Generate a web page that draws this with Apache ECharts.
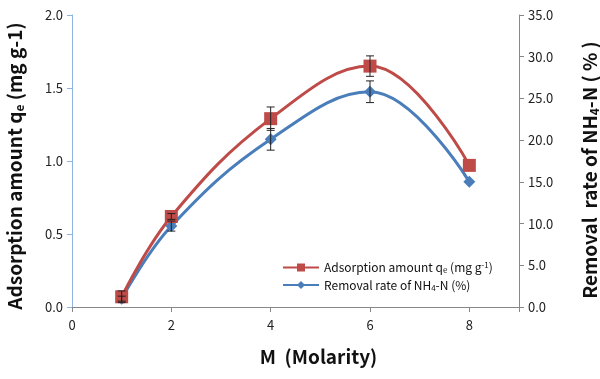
<!DOCTYPE html>
<html>
<head>
<meta charset="utf-8">
<script src="https://cdn.jsdelivr.net/npm/echarts@6/dist/echarts.min.js"></script>
<style>html,body{margin:0;padding:0;background:#fff}#c{width:600px;height:379px}</style>
</head>
<body>
<div id="c"></div>
<script>
var molarity = [1, 2, 4, 6, 8];
var adsorption = [0.07, 0.62, 1.29, 1.65, 0.97];
var adsorptionErr = [0.04, 0.02, 0.08, 0.07, 0];
var removal = [1.0, 9.7, 20.1, 25.8, 15.0];
var removalErr = [0.3, 0.6, 1.3, 1.3, 0];
var xTicks = [0, 2, 4, 6, 8];
var leftTicks = [0, 0.5, 1.0, 1.5, 2.0];
var rightTicks = [0, 5, 10, 15, 20, 25, 30, 35];

var FONT = '"Noto Sans CJK KR", "Open Sans", sans-serif';
var chart = echarts.init(document.getElementById('c'));

function pairs(xs, ys) { return xs.map(function (x, i) { return [x, ys[i]]; }); }
function errs(xs, ys, es) { return xs.map(function (x, i) { return [x, ys[i] - es[i], ys[i] + es[i]]; }); }

function errRender(params, api) {
  var x = api.value(0), lo = api.value(1), hi = api.value(2);
  if (hi - lo <= 0) return null;
  var p1 = api.coord([x, lo]), p2 = api.coord([x, hi]);
  var w = 4;
  var st = { stroke: '#222', lineWidth: 1 };
  return {
    type: 'group',
    children: [
      { type: 'line', shape: { x1: p1[0], y1: p1[1], x2: p2[0], y2: p2[1] }, style: st },
      { type: 'line', shape: { x1: p1[0] - w, y1: p1[1], x2: p1[0] + w, y2: p1[1] }, style: st },
      { type: 'line', shape: { x1: p2[0] - w, y1: p2[1], x2: p2[0] + w, y2: p2[1] }, style: st }
    ]
  };
}

var titleRich = {
  t: { fontSize: 19, fontWeight: 'bold', color: '#111', fontFamily: FONT },
  s: { fontSize: 12, fontWeight: 'bold', color: '#111', fontFamily: FONT, padding: [9, 0, 0, 0] }
};

chart.setOption({
  animation: false,
  grid: { left: 72, right: 81, top: 15, bottom: 72, containLabel: false, outerBoundsMode: 'none' },
  legend: {
    data: ['Adsorption amount qe (mg g-1)', 'Removal rate of NH4-N (%)'],
    orient: 'vertical',
    left: 277,
    top: 256,
    itemWidth: 36,
    itemHeight: 10,
    itemGap: 5,
    formatter: function (name) {
      if (name.indexOf('Adsorption') === 0) return '{a|Adsorption amount q}{b|e}{a| (mg g}{c|-1}{a|)}';
      return '{a|Removal rate of NH}{b|4}{a|-N (%)}';
    },
    textStyle: {
      rich: {
        a: { fontSize: 12, color: '#111', fontFamily: FONT },
        b: { fontSize: 8, color: '#111', fontFamily: FONT, padding: [5, 0, 0, 0] },
        c: { fontSize: 8, color: '#111', fontFamily: FONT, padding: [0, 0, 5, 0] }
      }
    }
  },
  xAxis: {
    type: 'value',
    min: 0, max: 9, interval: 2,
    name: 'M  (Molarity)',
    nameLocation: 'middle',
    nameGap: 40,
    nameTextStyle: { fontSize: 19, fontWeight: 'bold', color: '#111', fontFamily: FONT, padding: [0, 0, 0, 46] },
    axisLine: { lineStyle: { color: '#888' } },
    axisTick: { show: true, inside: false, length: 5, lineStyle: { color: '#888' } },
    axisLabel: { fontSize: 13, color: '#222', fontFamily: FONT, margin: 12,
      formatter: function (v) { return xTicks.indexOf(v) >= 0 ? String(v) : ''; } },
    splitLine: { show: false }
  },
  yAxis: [
    {
      type: 'value', min: 0, max: 2, interval: 0.5, position: 'left',
      name: '{t|Adsorption amount q}{s|e}{t| (mg g-1)}',
      nameLocation: 'middle', nameRotate: 90, nameGap: 47,
      nameTextStyle: { rich: titleRich, padding: [0, 10, 0, 0] },
      axisLine: { show: true, lineStyle: { color: '#8eb4e3' } },
      axisTick: { show: true, inside: false, length: 5, lineStyle: { color: '#8eb4e3' } },
      axisLabel: { fontSize: 13, color: '#222', fontFamily: FONT, margin: 9,
        formatter: function (v) { return leftTicks.indexOf(v) >= 0 ? v.toFixed(1) : ''; } },
      splitLine: { show: false }
    },
    {
      type: 'value', min: 0, max: 35, interval: 5, position: 'right',
      name: '{t|Removal  rate of NH}{s|4}{t|-N ( % )}',
      nameLocation: 'middle', nameRotate: 90, nameGap: 60,
      nameTextStyle: { rich: titleRich, padding: [0, 18, 0, 0] },
      axisLine: { show: true, lineStyle: { color: '#888' } },
      axisTick: { show: true, inside: false, length: 5, lineStyle: { color: '#888' } },
      axisLabel: { fontSize: 13, color: '#222', fontFamily: FONT, margin: 9,
        formatter: function (v) { return rightTicks.indexOf(v) >= 0 ? v.toFixed(1) : ''; } },
      splitLine: { show: false }
    }
  ],
  series: [
    {
      name: 'Removal rate of NH4-N (%)', type: 'line', yAxisIndex: 1,
      data: pairs(molarity, removal), smooth: 0.4,
      symbol: 'diamond', symbolSize: 12,
      lineStyle: { color: '#4a7ebb', width: 3 },
      itemStyle: { color: '#4a7ebb' }, z: 2
    },
    {
      name: 'Adsorption amount qe (mg g-1)', type: 'line', yAxisIndex: 0,
      data: pairs(molarity, adsorption), smooth: 0.4,
      symbol: 'rect', symbolSize: 13,
      lineStyle: { color: '#be4b48', width: 3 },
      itemStyle: { color: '#be4b48' }, z: 3
    },
    {
      name: 'errA', type: 'custom', yAxisIndex: 0, renderItem: errRender,
      data: errs(molarity, adsorption, adsorptionErr), z: 4, silent: true
    },
    {
      name: 'errR', type: 'custom', yAxisIndex: 1, renderItem: errRender,
      data: errs(molarity, removal, removalErr), z: 4, silent: true
    }
  ]
});
</script>
</body>
</html>
